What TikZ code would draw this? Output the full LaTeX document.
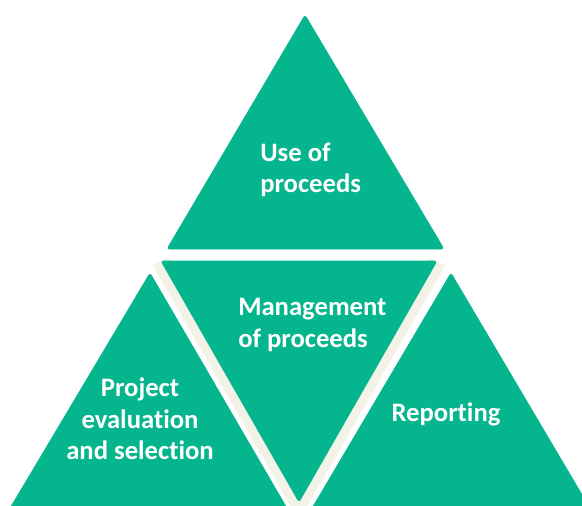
\documentclass[tikz,border=0pt]{standalone}
\usepackage{fontspec}
\setmainfont{Carlito}[Ligatures={NoCommon}]
\usetikzlibrary{positioning}

\definecolor{pyrgreen}{RGB}{4,181,141}
\definecolor{pyrcream}{RGB}{243,242,230}

\begin{document}
\begin{tikzpicture}[x=0.75pt,y=0.75pt,yscale=-1,xscale=1,
  pyrpiece/.style={fill=pyrgreen,draw=pyrgreen,line width=0.5,rounded corners=2},
  pyrtext/.style={text=white,inner sep=0.75pt,font=\fontsize{20}{23.5}\selectfont\bfseries}]
\clip (0,0) rectangle (582,506);

%Straight Lines: cream band round the middle piece
\begin{scope}
\clip (0,259) rectangle (582,506);
\draw [color=pyrcream,line width=14,line join=round] (161,261) -- (299,502) -- (437,261) ;
\end{scope}
%Shape: Triangle top
\draw [pyrpiece] (305,15) -- (444,249) -- (167,249) -- cycle ;
%Shape: Triangle middle (upside down)
\draw [pyrpiece] (161,261) -- (437,261) -- (299,502) -- cycle ;
%Shape: Triangle left
\draw [pyrpiece] (150,273) -- (288,510) -- (9,510) -- cycle ;
%Shape: Triangle right
\draw [pyrpiece] (451,273) -- (591,510) -- (311,510) -- cycle ;

% Text Node
\node [pyrtext,anchor=west,align=left] (useproc) at (259,170) {Use of\\proceeds};
% Text Node
\node [pyrtext,anchor=west,align=left] (mgmtproc) at (237,325) {Management\\of proceeds};
% Text Node
\node [pyrtext,align=center] (evalsel) at (140,419) {Project\\evaluation\\and selection};
% Text Node
\node [pyrtext] (reporting) at (446,414) {Reporting};

\end{tikzpicture}
\end{document}
